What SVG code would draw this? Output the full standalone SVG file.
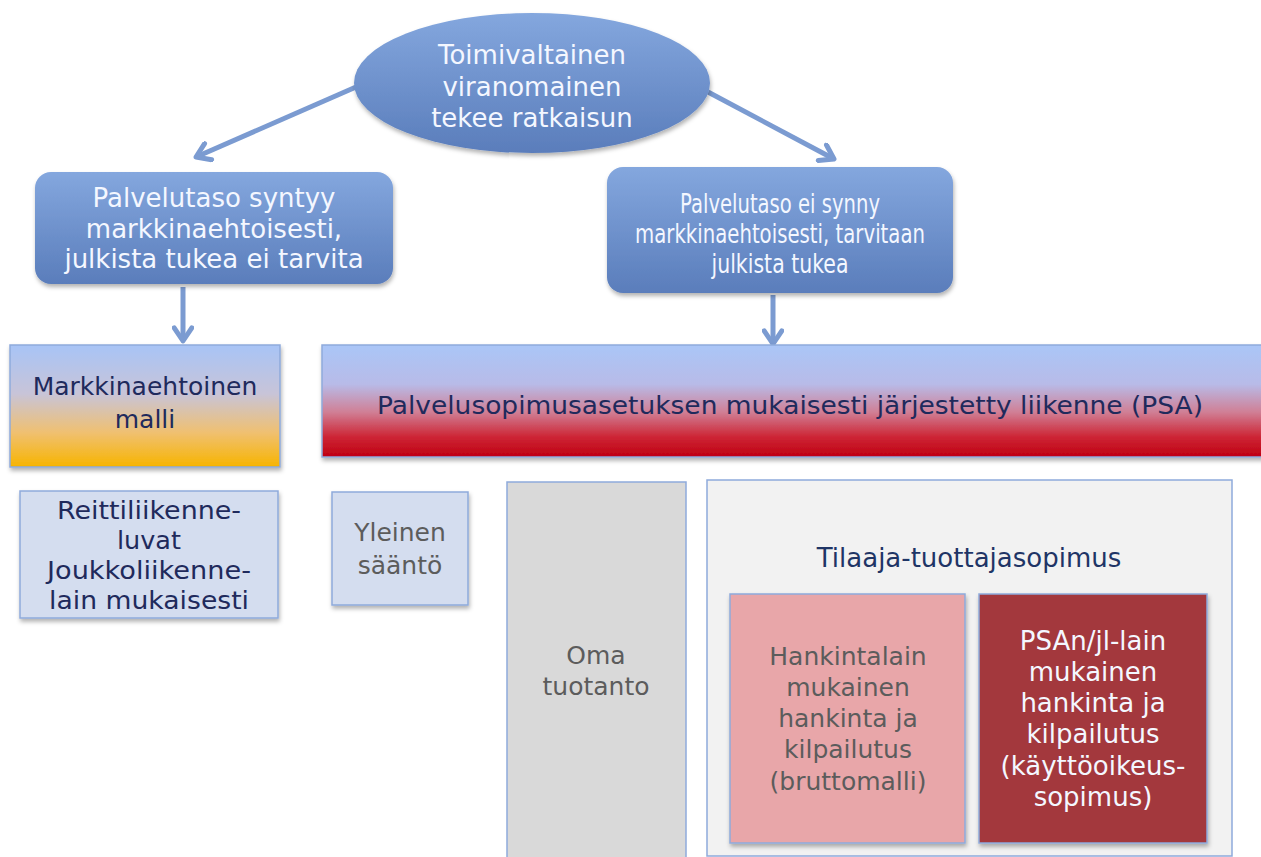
<svg xmlns="http://www.w3.org/2000/svg" width="1261" height="857" viewBox="0 0 1261 857">
<defs>
  <linearGradient id="gBlue" x1="0" y1="0" x2="0" y2="1">
    <stop offset="0" stop-color="#84a7de"/>
    <stop offset="1" stop-color="#5a7dbb"/>
  </linearGradient>
  <linearGradient id="gMarket" x1="0" y1="0" x2="0" y2="1">
    <stop offset="0" stop-color="#a8c4f6"/>
    <stop offset="0.4" stop-color="#c8c4d8"/>
    <stop offset="0.72" stop-color="#f0c070"/>
    <stop offset="1" stop-color="#f7b400"/>
  </linearGradient>
  <linearGradient id="gPsa" x1="0" y1="0" x2="0" y2="1">
    <stop offset="0" stop-color="#aac6f7"/>
    <stop offset="0.35" stop-color="#b8bbe8"/>
    <stop offset="0.6" stop-color="#d07f95"/>
    <stop offset="0.82" stop-color="#cd2535"/>
    <stop offset="1" stop-color="#bf0012"/>
  </linearGradient>
  <filter id="sh" x="-10%" y="-10%" width="120%" height="130%">
    <feDropShadow dx="1" dy="3" stdDeviation="2" flood-color="#000" flood-opacity="0.3"/>
  </filter>
  <marker id="ah" viewBox="0 0 20 20" markerUnits="userSpaceOnUse" markerWidth="22" markerHeight="22" refX="15" refY="10" orient="auto">
    <path d="M3,2 L15,10 L3,18" fill="none" stroke="#7b9bd1" stroke-width="4.5" stroke-linecap="round" stroke-linejoin="round"/>
  </marker>
  <style>
    text { font-family: "DejaVu Sans", Verdana, sans-serif; text-anchor: middle; }
    .w { fill: #f4f7ff; font-size: 26px; }
    .navy { fill: #1f2a5c; font-size: 25px; }
    .grey { fill: #5c5c5c; font-size: 25px; }
    .bdr { stroke: #8eaadb; stroke-width: 1.5; }
    .conn { stroke: #7b9bd1; stroke-width: 5; fill: none; marker-end: url(#ah); }
  </style>
</defs>
<rect width="1261" height="857" fill="#ffffff"/>

<g id="connectors">
  <line class="conn" x1="356" y1="87" x2="196" y2="157"/>
  <line class="conn" x1="708" y1="92" x2="834" y2="159"/>
  <line class="conn" x1="183" y1="287" x2="183" y2="341"/>
  <line class="conn" x1="773" y1="295" x2="773" y2="344"/>
</g>

<g id="authority">
  <ellipse cx="532" cy="83" rx="178" ry="70" fill="url(#gBlue)" filter="url(#sh)"/>
  <text class="w" x="532" y="64">Toimivaltainen</text>
  <text class="w" x="532" y="96">viranomainen</text>
  <text class="w" x="532" y="127">tekee ratkaisun</text>
</g>

<g id="market-level">
  <rect x="35" y="172" width="358" height="112" rx="16" fill="url(#gBlue)" filter="url(#sh)"/>
  <text class="w" x="214" y="207">Palvelutaso syntyy</text>
  <text class="w" x="214" y="238">markkinaehtoisesti,</text>
  <text class="w" x="214" y="268">julkista tukea ei tarvita</text>
</g>

<g id="public-level">
  <rect x="607" y="167" width="346" height="126" rx="16" fill="url(#gBlue)" filter="url(#sh)"/>
  <text class="w" x="780" y="213" font-size="28" textLength="200" lengthAdjust="spacingAndGlyphs">Palvelutaso ei synny</text>
  <text class="w" x="780" y="243" font-size="28" textLength="290" lengthAdjust="spacingAndGlyphs">markkinaehtoisesti, tarvitaan</text>
  <text class="w" x="780" y="273" font-size="28" textLength="137" lengthAdjust="spacingAndGlyphs">julkista tukea</text>
</g>

<g id="market-model">
  <rect x="10" y="345" width="270" height="122" fill="url(#gMarket)" class="bdr" filter="url(#sh)"/>
  <text class="navy" x="145" y="395" font-size="27">Markkinaehtoinen</text>
  <text class="navy" x="145" y="428" font-size="27">malli</text>
</g>

<g id="psa">
  <rect x="322" y="345" width="945" height="112" fill="url(#gPsa)" class="bdr" filter="url(#sh)"/>
  <text class="navy" x="790" y="414" font-size="27" textLength="826" lengthAdjust="spacingAndGlyphs">Palvelusopimusasetuksen mukaisesti järjestetty liikenne (PSA)</text>
</g>

<g id="route-permits">
  <rect x="20" y="491" width="258" height="127" fill="#d4ddef" class="bdr" filter="url(#sh)"/>
  <text class="navy" x="149" y="519" font-size="27" textLength="184" lengthAdjust="spacingAndGlyphs">Reittiliikenne-</text>
  <text class="navy" x="149" y="549" font-size="27" textLength="64" lengthAdjust="spacingAndGlyphs">luvat</text>
  <text class="navy" x="149" y="579" font-size="27" textLength="204" lengthAdjust="spacingAndGlyphs">Joukkoliikenne-</text>
  <text class="navy" x="149" y="609" font-size="27" textLength="200" lengthAdjust="spacingAndGlyphs">lain mukaisesti</text>
</g>

<g id="general-rule">
  <rect x="332" y="492" width="136" height="113" fill="#d4ddef" class="bdr" filter="url(#sh)"/>
  <text class="grey" x="400" y="541" font-size="26">Yleinen</text>
  <text class="grey" x="400" y="574" font-size="26">sääntö</text>
</g>

<g id="own-production">
  <rect x="507" y="482" width="179" height="380" fill="#d9d9d9" class="bdr"/>
  <text class="grey" x="596" y="664" font-size="26">Oma</text>
  <text class="grey" x="596" y="695" font-size="26">tuotanto</text>
</g>

<g id="contract">
  <rect x="707" y="480" width="525" height="376" fill="#f2f2f2" class="bdr"/>
  <text x="969" y="567" fill="#1f3566" font-size="26">Tilaaja-tuottajasopimus</text>
</g>

<g id="procurement-gross">
  <rect x="730" y="594" width="235" height="249" fill="#e8a6a9" class="bdr" filter="url(#sh)"/>
  <text class="grey" x="848" y="665">Hankintalain</text>
  <text class="grey" x="848" y="696">mukainen</text>
  <text class="grey" x="848" y="727">hankinta ja</text>
  <text class="grey" x="848" y="758">kilpailutus</text>
  <text class="grey" x="848" y="790">(bruttomalli)</text>
</g>

<g id="procurement-concession">
  <rect x="979" y="594" width="228" height="249" fill="#a3383d" class="bdr" filter="url(#sh)"/>
  <text class="w" x="1093" y="650" font-size="25">PSAn/jl-lain</text>
  <text class="w" x="1093" y="681" font-size="25">mukainen</text>
  <text class="w" x="1093" y="712" font-size="25">hankinta ja</text>
  <text class="w" x="1093" y="743" font-size="25">kilpailutus</text>
  <text class="w" x="1093" y="775" font-size="25">(käyttöoikeus-</text>
  <text class="w" x="1093" y="806" font-size="25">sopimus)</text>
</g>
</svg>
